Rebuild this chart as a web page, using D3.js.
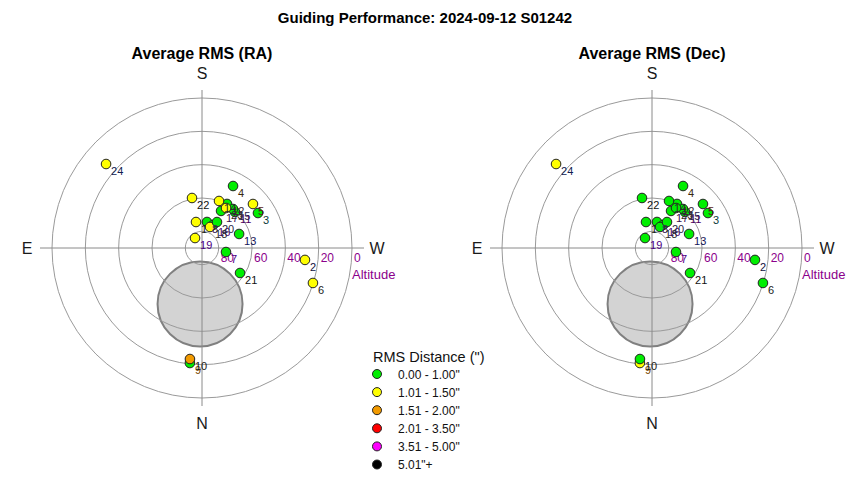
<!DOCTYPE html>
<html>
<head>
<meta charset="utf-8">
<script src="https://cdn.jsdelivr.net/npm/d3@7"></script>
<style>
  html, body { margin: 0; padding: 0; background: #fff; }
  svg { display: block; font-family: Arial, "Liberation Sans", sans-serif; }
</style>
</head>
<body>
<svg id="chart" width="850" height="480"></svg>
<script>
// ---- data ----
const pointLabels = ["1","2","3","4","5","6","7","8","9","10","11","12","13","14","15","16","17","18","19","20","21","22","23","24"];
const azimuth  = [167, 276.6, 238, 206.6, 229.2, 287.5, 279.5, 190.9, 6.0, 6.2, 222.5, 209.6, 249.3, 199.9, 218.5, 205.6, 207.2, 200.9, 145, 210, 303.3, 168.7, 211, 131.2];
const altitude = [74.0, 27.8, 50.4, 48.4, 49.6, 20.2, 75.4, 74.1, 20.6, 23.0, 60.7, 59.6, 66.2, 60.0, 60.1, 74.7, 65.0, 76.5, 82.7, 72.0, 62.7, 59.4, 62.0, 13.5];
const rmsRA    = [1.2, 1.3, 0.8, 0.9, 1.2, 1.3, 0.9, 0.8, 0.9, 1.7, 0.8, 0.9, 0.9, 1.2, 0.9, 0.8, 0.9, 1.1, 1.2, 0.9, 0.9, 1.2, 1.1, 1.3];
const rmsDec   = [0.7, 0.8, 0.6, 0.7, 0.8, 0.7, 0.6, 0.5, 1.1, 0.7, 0.6, 0.6, 0.7, 0.8, 0.6, 0.6, 0.7, 0.7, 0.8, 0.6, 0.7, 0.9, 0.8, 1.2];
const labelColors = ["#1a1a1a","#101040","#0b3b3b","#3a2a10","#5a1a1a","#1a1a1a","#4b0082","#3a1a5a","#7a4a00","#1a1a1a","#4b0060","#3a2a3a","#14145a","#2a2a2a","#2a1a4a","#4b0070","#3a1050","#2a2a2a","#4b0082","#2a2a4a","#111111","#111111","#3a2a2a","#102050"];
const altitudeTicks = [80, 60, 40, 20, 0];
const compass = [{t:"S", az:180}, {t:"N", az:0}, {t:"E", az:90}, {t:"W", az:270}];
const obstruction = {az: 2, alt: 56.4, size: 25.5};
const binEdges  = [1.005, 1.505, 2.005, 3.505, 5.005];
const binColors = ["#00ee00", "#ffff00", "#f29a00", "#ff0000", "#ff00ff", "#000000"];
const binLabels = ['0.00 - 1.00"', '1.01 - 1.50"', '1.51 - 2.00"', '2.01 - 3.50"', '3.51 - 5.00"', '5.01"+'];
const panels = [
  {title: "Average RMS (RA)", cx: 202, rms: rmsRA},
  {title: "Average RMS (Dec)", cx: 652, rms: rmsDec}
];

// ---- drawing ----
const svg = d3.select("#chart");
const R = 150, cy = 248;
const rScale = d3.scaleLinear().domain([90, 0]).range([0, R]);
const colorScale = d3.scaleThreshold().domain(binEdges).range(binColors);
const rad = d => d * Math.PI / 180;

svg.append("text").attr("x", 425).attr("y", 23).attr("text-anchor", "middle")
  .attr("font-size", 15).attr("font-weight", "bold").attr("fill", "#000")
  .text("Guiding Performance: 2024-09-12 S01242");

panels.forEach(p => {
  const g = svg.append("g").attr("transform", `translate(${p.cx},${cy})`);
  const px = (az, alt) => -rScale(alt) * Math.sin(rad(az));
  const py = (az, alt) => rScale(alt) * Math.cos(rad(az));

  svg.append("text").attr("x", p.cx).attr("y", 59).attr("text-anchor", "middle")
    .attr("font-size", 16).attr("font-weight", "bold").attr("fill", "#000").text(p.title);

  // obstruction circle (behind grid)
  g.append("circle")
    .attr("cx", px(obstruction.az, obstruction.alt))
    .attr("cy", py(obstruction.az, obstruction.alt))
    .attr("r", rScale(90 - obstruction.size))
    .attr("fill", "#d3d3d3").attr("stroke", "#808080").attr("stroke-width", 2);

  // grid circles
  g.selectAll("circle.grid").data(altitudeTicks).join("circle")
    .attr("class", "grid").attr("r", d => rScale(d))
    .attr("fill", "none").attr("stroke", "#9a9a9a").attr("stroke-width", 1);

  // axes
  const ext = R + 10;
  g.append("line").attr("x1", -ext - 2).attr("x2", ext + 2).attr("y1", 0).attr("y2", 0)
    .attr("stroke", "#8a8a8a").attr("stroke-width", 1);
  g.append("line").attr("x1", 0).attr("x2", 0).attr("y1", -ext + 2).attr("y2", ext - 2)
    .attr("stroke", "#8a8a8a").attr("stroke-width", 1);

  // altitude labels
  g.selectAll("text.alt").data(altitudeTicks).join("text")
    .attr("class", "alt").attr("x", d => rScale(d) + 2).attr("y", 14)
    .attr("font-size", 12).attr("fill", "#8b008b").text(d => d);
  g.append("text").attr("x", R).attr("y", 31).attr("font-size", 13)
    .attr("fill", "#8b008b").text("Altitude");

  // compass labels
  g.selectAll("text.cmp").data(compass).join("text")
    .attr("class", "cmp")
    .attr("x", d => -(R + 25) * Math.sin(rad(d.az)))
    .attr("y", d => (R + 25) * Math.cos(rad(d.az)) + 6)
    .attr("text-anchor", "middle").attr("font-size", 16).attr("fill", "#1a1a1a")
    .text(d => d.t);

  const idx = d3.range(pointLabels.length);
  // points
  g.selectAll("circle.pt").data(idx).join("circle")
    .attr("class", "pt")
    .attr("cx", i => px(azimuth[i], altitude[i]))
    .attr("cy", i => py(azimuth[i], altitude[i]))
    .attr("r", 4.8)
    .attr("fill", i => colorScale(p.rms[i]))
    .attr("stroke", "#222").attr("stroke-width", 1);
  // point labels
  g.selectAll("text.pl").data(idx).join("text")
    .attr("class", "pl")
    .attr("x", i => px(azimuth[i], altitude[i]) + 5)
    .attr("y", i => py(azimuth[i], altitude[i]) + 11)
    .attr("font-size", 11).attr("fill", i => labelColors[i])
    .text(i => pointLabels[i]);
});

// legend
const lg = svg.append("g").attr("transform", "translate(373,362)");
lg.append("text").attr("x", 0).attr("y", 0).attr("font-size", 14.5).attr("fill", "#111")
  .text('RMS Distance (")');
lg.selectAll("circle").data(binColors).join("circle")
  .attr("cx", 4).attr("cy", (d, i) => 12 + i * 18.1).attr("r", 4.5)
  .attr("fill", d => d).attr("stroke", "#222").attr("stroke-width", 1);
lg.selectAll("text.li").data(binLabels).join("text")
  .attr("class", "li").attr("x", 25).attr("y", (d, i) => 16.5 + i * 18.1)
  .attr("font-size", 12).attr("fill", "#111").text(d => d);
</script>
</body>
</html>
